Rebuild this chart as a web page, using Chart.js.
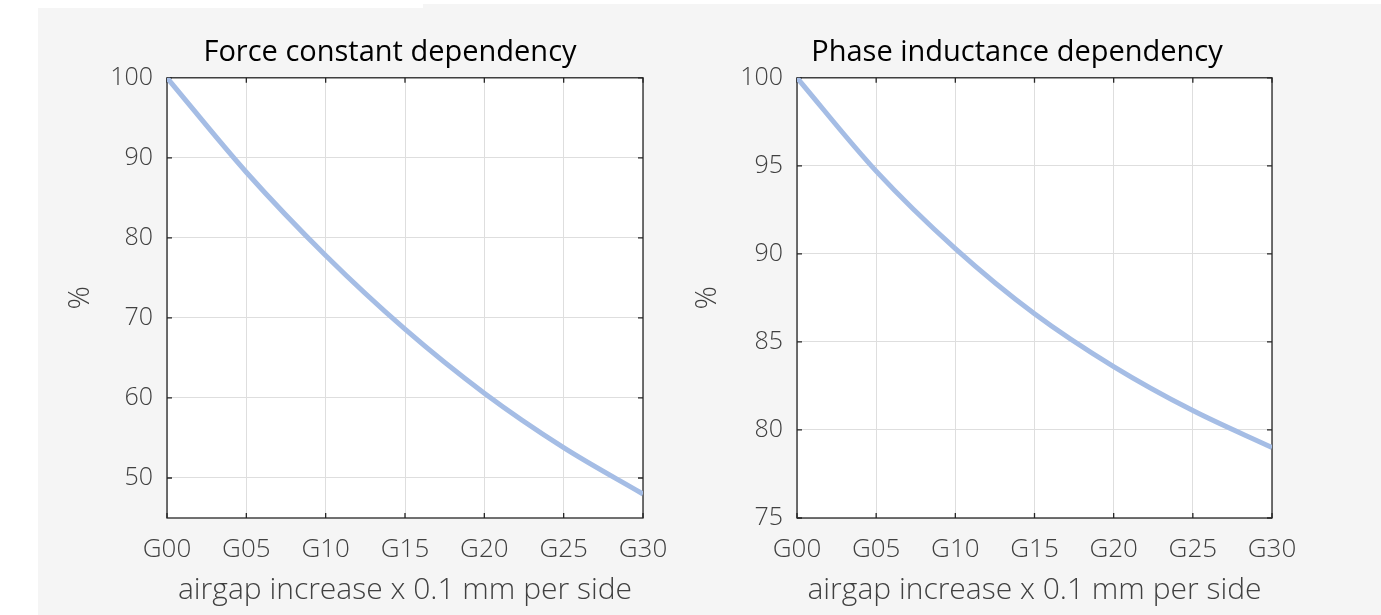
<!DOCTYPE html>
<html>
<head>
<meta charset="utf-8">
<title>Airgap dependency</title>
<script src="https://cdn.jsdelivr.net/npm/chart.js@4.4.1/dist/chart.umd.min.js"></script>
<style>
  body { margin: 0; width: 1381px; height: 615px; overflow: hidden; position: relative; background: #fff; }
  .panel-bg { position: absolute; right: 0; bottom: 0; background: #f5f5f5; }
  .chart-box { position: absolute; top: 8px; height: 607px; }
  #forceBox { left: 38px; width: 704px; }
  #phaseBox { left: 680px; width: 674px; }
</style>
</head>
<body>
<div class="panel-bg" style="left:38px;top:8px"></div>
<div class="panel-bg" style="left:423px;top:4px"></div>
<div class="chart-box" id="forceBox"><canvas id="forceChart"></canvas></div>
<div class="chart-box" id="phaseBox"><canvas id="phaseChart"></canvas></div>
<script>
// airgap steps (x 0.1 mm per side)
const gapSteps = [0, 5, 10, 15, 20, 25, 30];
const gapLabels = ['G00', 'G05', 'G10', 'G15', 'G20', 'G25', 'G30'];

// values in % of nominal
const forceConstant = [100, 88.2, 77.8, 68.6, 60.6, 53.8, 48.0];
const phaseInductance = [100, 94.7, 90.3, 86.6, 83.6, 81.1, 79.0];

const forceTicks = [50, 60, 70, 80, 90, 100];
const phaseTicks = [75, 80, 85, 90, 95, 100];

const FONT = "'Open Sans', 'Noto Sans', sans-serif";
const LINE_COLOR = '#a5bde5';
const TEXT_GRAY = '#404040';

// white plot background, dark box and inward tick marks
const axesBox = {
    id: 'axesBox',
    beforeDraw(chart) {
        const {ctx, chartArea: a} = chart;
        ctx.save();
        ctx.fillStyle = '#fff';
        ctx.fillRect(a.left, a.top, a.width, a.height);
        ctx.restore();
    },
    beforeDatasetsDraw(chart) {
        const {ctx, chartArea: a, scales} = chart;
        const len = 5;
        ctx.save();
        ctx.strokeStyle = '#262626';
        ctx.lineWidth = 1.3;
        ctx.beginPath();
        scales.x.ticks.forEach(t => {
            const px = scales.x.getPixelForValue(t.value);
            ctx.moveTo(px, a.bottom); ctx.lineTo(px, a.bottom - len);
            ctx.moveTo(px, a.top); ctx.lineTo(px, a.top + len);
        });
        scales.y.ticks.forEach(t => {
            const py = scales.y.getPixelForValue(t.value);
            ctx.moveTo(a.left, py); ctx.lineTo(a.left + len, py);
            ctx.moveTo(a.right, py); ctx.lineTo(a.right - len, py);
        });
        ctx.stroke();
        ctx.strokeRect(a.left, a.top, a.width, a.height);
        ctx.restore();
    }
};

function makeChart(id, title, values, yTicks, yMin, yWidth, rightGap, yTitlePad) {
    return new Chart(document.getElementById(id), {
        type: 'line',
        data: {
            datasets: [{
                data: gapSteps.map((g, i) => ({x: g, y: values[i]})),
                borderColor: LINE_COLOR,
                borderWidth: 5,
                pointRadius: 0,
                cubicInterpolationMode: 'monotone',
                borderCapStyle: 'butt'
            }]
        },
        options: {
            responsive: true,
            maintainAspectRatio: false,
            animation: false,
            layout: { padding: 0 },
            plugins: {
                legend: { display: false },
                tooltip: { enabled: false },
                title: {
                    display: true,
                    text: title,
                    color: '#000',
                    font: { family: FONT, size: 29, weight: 'normal' },
                    padding: { top: 27, bottom: 8 }
                }
            },
            scales: {
                x: {
                    type: 'linear',
                    min: 0,
                    max: 30,
                    afterBuildTicks: s => { s.ticks = gapSteps.map(v => ({value: v})); },
                    afterFit: s => { s.height = 97; },
                    ticks: {
                        color: TEXT_GRAY,
                        padding: 16,
                        maxRotation: 0,
                        font: { family: FONT, size: 26, weight: 300 },
                        callback: v => gapLabels[gapSteps.indexOf(v)]
                    },
                    grid: { color: '#dedede', lineWidth: 1, drawTicks: false },
                    border: { display: false },
                    title: {
                        display: true,
                        text: 'airgap increase x 0.1 mm per side',
                        color: TEXT_GRAY,
                        font: { family: FONT, size: 30, weight: 300 },
                        padding: { top: 4, bottom: 7 }
                    }
                },
                y: {
                    min: yMin,
                    max: 100,
                    afterBuildTicks: s => { s.ticks = yTicks.map(v => ({value: v})); },
                    afterFit: s => { s.width = yWidth; },
                    ticks: {
                        color: TEXT_GRAY,
                        padding: 14,
                        font: { family: FONT, size: 25, weight: 300 }
                    },
                    grid: { color: '#dedede', lineWidth: 1, drawTicks: false },
                    border: { display: false },
                    title: {
                        display: true,
                        text: '%',
                        color: TEXT_GRAY,
                        font: { family: FONT, size: 29, weight: 300 },
                        padding: { top: yTitlePad, bottom: 0 }
                    }
                },
                // empty margin on the right so the title centres over the whole panel
                gap: {
                    position: 'right',
                    display: true,
                    ticks: { display: false },
                    grid: { display: false },
                    border: { display: false },
                    afterFit: s => { s.width = rightGap; }
                }
            }
        },
        plugins: [axesBox]
    });
}

makeChart('forceChart', 'Force constant dependency', forceConstant, forceTicks, 45, 129, 99, 25);
makeChart('phaseChart', 'Phase inductance dependency', phaseInductance, phaseTicks, 75, 117, 82, 10);
</script>
</body>
</html>
